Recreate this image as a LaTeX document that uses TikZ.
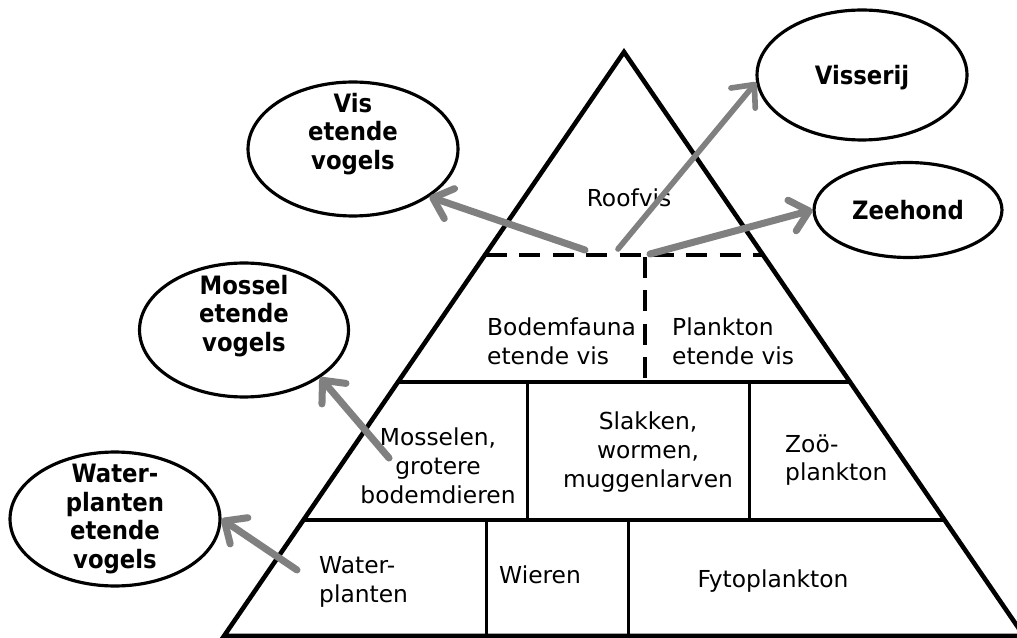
\documentclass[tikz,border=0pt]{standalone}
\usepackage{fontspec}
\setmainfont{DejaVu Sans}
\newfontfamily\condfont{DejaVu Sans Condensed}
\usetikzlibrary{arrows.meta,shapes.geometric}
\tikzset{
  bird/.style={draw, ellipse, line width=1.8pt, inner sep=0pt},
  birdtext/.style={align=center, font=\condfont\bfseries\fontsize{14.4}{16.4}\selectfont},
  level/.style={font=\fontsize{13.3}{16.4}\selectfont},
  feeds/.style={draw=gray, line width=4pt, line cap=round, -{Straight Barb[round,length=10pt,width=18pt]}}
}
\begin{document}
\begin{tikzpicture}[x=0.02cm, y=-0.02cm]
  \useasboundingbox (0,0) rectangle (1017,638);
  \draw[line width=2.6pt] (624,52) -- (1024,636) -- (224,636) -- cycle;
  \draw[line width=2pt, dash pattern=on 12pt off 7pt] (486,255) -- (763,255);
  \draw[line width=2pt, dash pattern=on 12pt off 7pt] (645,257) -- (645,382);
  \draw[line width=2pt] (398,382) -- (850,382);
  \draw[line width=2pt] (304,520) -- (944,520);
  \draw[line width=1.7pt] (527,382) -- (527,520);
  \draw[line width=1.7pt] (749,382) -- (749,520);
  \draw[line width=1.7pt] (486,520) -- (486,636);
  \draw[line width=1.7pt] (628,520) -- (628,636);
  \node[level] (roof) at (629,198) {Roofvis};
  \node[level, align=left, anchor=west] (bodemvis) at (481,341) {Bodemfauna\\etende vis};
  \node[level, align=left, anchor=west] (planktonvis) at (666,341) {Plankton\\etende vis};
  \node[level, align=center] (mosselen) at (438,466) {Mosselen,\\grotere\\bodemdieren};
  \node[level, align=center] (slakken) at (648,452) {Slakken,\\wormen,\\muggenlarven};
  \node[level, align=left, anchor=west] (zoo) at (779,460) {Zoö-\\plankton};
  \node[level, align=left, anchor=west] (planten) at (313,582) {Water-\\planten};
  \node[level] (wieren) at (540,575) {Wieren};
  \node[level] (fyto) at (773,581) {Fytoplankton};
  \node[bird, minimum width=4.2cm, minimum height=2.6cm] (fishery) at (862,75) {};
  \node[birdtext] at (862,78) {Visserij};
  \node[bird, minimum width=3.76cm, minimum height=1.9cm] (seal) at (908,210) {};
  \node[birdtext] at (908,210) {Zeehond};
  \node[bird, minimum width=4.2cm, minimum height=2.68cm] (visbird) at (353,149) {};
  \node[birdtext] at (353,134) {Vis\\etende\\vogels};
  \node[bird, minimum width=4.18cm, minimum height=2.68cm] (musselbird) at (244,330) {};
  \node[birdtext] at (244,316) {Mossel\\etende\\vogels};
  \node[bird, minimum width=4.2cm, minimum height=2.68cm] (plantbird) at (115,519) {};
  \node[birdtext] at (115,519) {Water-\\planten\\etende\\vogels};
  \coordinate (s1) at (585,250);
  \coordinate (s2) at (618,249);
  \coordinate (s3) at (650,254);
  \coordinate (s4) at (389,458);
  \coordinate (s5) at (297,570);
  \draw[feeds] (s1) -- (visbird.-32);
  \draw[feeds, line width=3.2pt] (s2) -- (fishery.184);
  \draw[feeds] (s3) -- (seal.180);
  \draw[feeds] (s4) -- (musselbird.-32);
  \draw[feeds] (s5) -- (plantbird.0);
\end{tikzpicture}
\end{document}
